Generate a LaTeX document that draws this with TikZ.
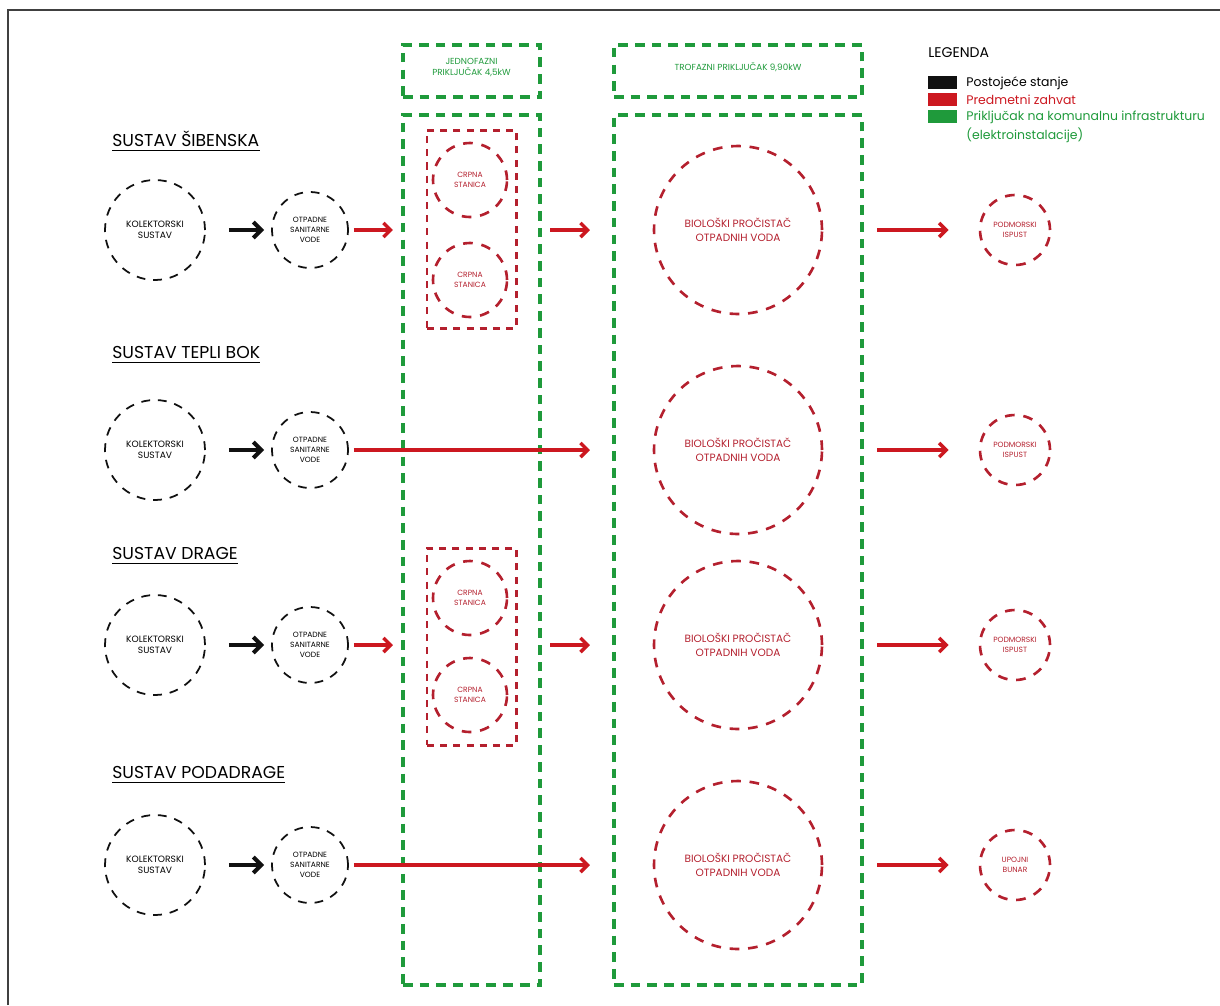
\documentclass[tikz,border=0pt]{standalone}
\usepackage{fontspec}
\setmainfont{Poppins}
\usetikzlibrary{arrows.meta,fit,positioning}
\definecolor{postojblack}{HTML}{111111}
\definecolor{zahvatred}{HTML}{CC1820}
\definecolor{circred}{HTML}{B4202E}
\definecolor{prikgreen}{HTML}{1F9A3B}

\tikzset{
  kolcirc/.style={circle, draw=postojblack, line width=1pt, dash pattern=on 5pt off 4.5pt,
    inner sep=0pt, align=center, font=\fontsize{5.2}{6.4}\selectfont},
  biocirc/.style={circle, draw=circred, line width=1.5pt, dash pattern=on 5.5pt off 5pt,
    inner sep=0pt, align=center, text=circred, font=\fontsize{5}{6.2}\selectfont},
  greenbox/.style={draw=prikgreen, line width=2.3pt, dash pattern=on 5.5pt off 4pt,
    inner sep=0pt, align=center, text=prikgreen, font=\fontsize{5}{6.4}\selectfont},
  redbox/.style={draw=circred, line width=1.7pt, dash pattern=on 4pt off 3.5pt, inner sep=0pt},
  blackarrow/.style={draw=postojblack, line width=2.3pt, -{Straight Barb[length=4.5pt,width=9pt]}},
  redarrow/.style={draw=zahvatred, line width=2pt, -{Straight Barb[length=4pt,width=8pt]}},
  naslov/.style={anchor=base west, inner sep=0pt, font=\fontsize{9.8}{11}\selectfont},
  legtekst/.style={anchor=west, inner sep=0pt, font=\fontsize{7.1}{8.5}\selectfont}
}

\begin{document}
\begin{tikzpicture}[x=0.02cm,y=-0.02cm]
\useasboundingbox (0,0) rectangle (1220,1005);

% Frame
\draw[line width=1.2pt, black!75] (8,1005) -- (8,10) -- (1220,10);

% Green connection boxes
\node[greenbox, fit={(403,45) (540,97)}] (jednofazni) {JEDNOFAZNI\\PRIKLJUČAK 4,5kW};
\node[greenbox, fit={(614,45) (862,97)}] (trofazni) {TROFAZNI PRIKLJUČAK 9,90kW};
\node[greenbox, fit={(403,115) (540,985)}] (stup1) {};
\node[greenbox, fit={(614,115) (862,985)}] (stup2) {};

% Legend
\node[anchor=base west, inner sep=0pt, font=\fontsize{8}{9}\selectfont] (legenda) at (928,57) {LEGENDA};
\fill[postojblack] (928,76) rectangle (957,89);
\fill[zahvatred] (928,93) rectangle (957,106);
\fill[prikgreen] (928,110) rectangle (957,123);
\node[legtekst] at (966,83) {Postojeće stanje};
\node[legtekst, text=zahvatred] at (966,100) {Predmetni zahvat};
\node[legtekst, text=prikgreen] at (966,117) {Priključak na komunalnu infrastrukturu};
\node[legtekst, text=prikgreen] at (966,135) {(elektroinstalacije)};

% Systems: header, collector, waste water, treatment plant, outlet
\foreach \i/\y/\hy/\ime/\ispust in {1/230/146/SUSTAV ŠIBENSKA/PODMORSKI\\ISPUST,
    2/450/358/SUSTAV TEPLI BOK/PODMORSKI\\ISPUST,
    3/645/559/SUSTAV DRAGE/PODMORSKI\\ISPUST,
    4/865/778/SUSTAV PODADRAGE/UPOJNI\\BUNAR} {
  \node[naslov] (naslov\i) at (112,\hy) {\ime};
  \draw[line width=1pt] ([yshift=-2.5pt]naslov\i.base west) -- ([yshift=-2.5pt]naslov\i.base east);
  \node[kolcirc, minimum size=2cm] (kol\i) at (155,\y) {KOLEKTORSKI\\SUSTAV};
  \node[kolcirc, minimum size=1.52cm, font=\fontsize{4.3}{5.6}\selectfont] (vode\i) at (310,\y) {OTPADNE\\SANITARNE\\VODE};
  \node[biocirc, minimum size=3.36cm, font=\fontsize{6}{8}\selectfont] (bio\i) at (738,\y) {BIOLOŠKI PROČISTAČ\\OTPADNIH VODA};
  \node[biocirc, minimum size=1.4cm, font=\fontsize{4.3}{5.6}\selectfont] (isp\i) at (1015,\y) {\ispust};
  \draw[blackarrow, shorten <=4.6mm, shorten >=1.4mm] (kol\i.east) -- (vode\i.west);
  \draw[redarrow, shorten <=10.8mm, shorten >=6mm] (bio\i.east) -- (isp\i.west);
}

% Pump stations
\node[redbox, fit={(427,130) (516,328)}] (crpke1) {};
\node[biocirc, minimum size=1.48cm, font=\fontsize{4.3}{5.6}\selectfont] (crpna1a) at (470,180) {CRPNA\\STANICA};
\node[biocirc, minimum size=1.48cm, font=\fontsize{4.3}{5.6}\selectfont] (crpna1b) at (470,280) {CRPNA\\STANICA};
\node[redbox, fit={(427,548) (516,745)}] (crpke3) {};
\node[biocirc, minimum size=1.48cm, font=\fontsize{4.3}{5.6}\selectfont] (crpna3a) at (470,598) {CRPNA\\STANICA};
\node[biocirc, minimum size=1.48cm, font=\fontsize{4.3}{5.6}\selectfont] (crpna3b) at (470,695) {CRPNA\\STANICA};

% Red flows
\draw[redarrow, shorten <=1mm, shorten >=1.6mm] (vode1.east) -- (vode1.east -| stup1.west);
\draw[redarrow, shorten <=1.6mm, shorten >=4.4mm] (stup1.east |- bio1) -- (bio1.west -| stup2.west);
\draw[redarrow, shorten <=1mm, shorten >=1.6mm] (vode3.east) -- (vode3.east -| stup1.west);
\draw[redarrow, shorten <=1.6mm, shorten >=4.4mm] (stup1.east |- bio3) -- (bio3.west -| stup2.west);
\draw[redarrow, shorten <=1mm, shorten >=4.4mm] (vode2.east) -- (vode2.east -| stup2.west);
\draw[redarrow, shorten <=1mm, shorten >=4.4mm] (vode4.east) -- (vode4.east -| stup2.west);
\end{tikzpicture}
\end{document}
